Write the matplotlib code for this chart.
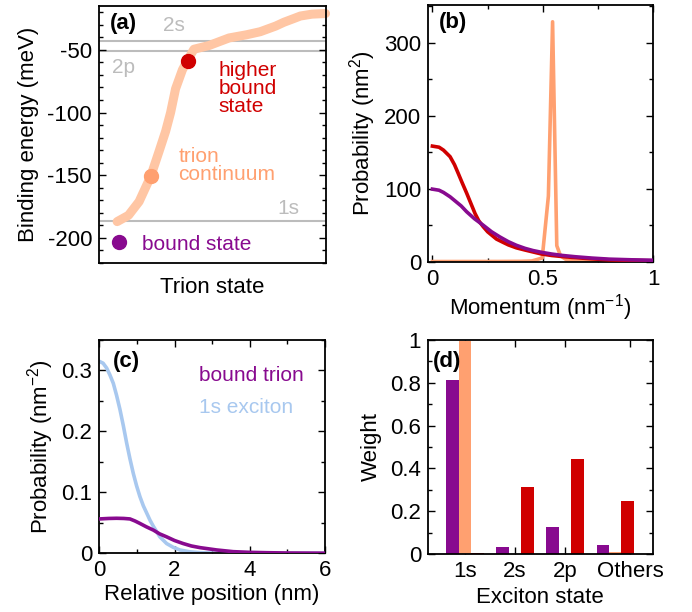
#!/usr/bin/env python3
"""Trion binding energies, momentum/real-space probabilities and exciton weights."""

import numpy as np
import matplotlib.pyplot as plt
from matplotlib.ticker import MultipleLocator, FuncFormatter

plt.rcParams["font.family"] = ["Liberation Sans", "DejaVu Sans"]
plt.rcParams["mathtext.fontset"] = "custom"
plt.rcParams["mathtext.rm"] = "Liberation Sans"
plt.rcParams["mathtext.it"] = "Liberation Sans:italic"
plt.rcParams["axes.unicode_minus"] = False
plt.rcParams["font.size"] = 16

PURPLE = "#880a8f"
RED = "#d00000"
ORANGE = "#ffa070"
ORANGE_LIGHT = "#ffc6a4"
BLUE = "#a8c8ef"
GRAY = "#bcbcbc"

# (a) trion binding energies
trion_state = [0.08, 0.13, 0.177, 0.228, 0.265, 0.294, 0.316, 0.338, 0.368, 0.39,
               0.419, 0.486, 0.574, 0.65, 0.712, 0.78, 0.816, 0.86, 0.889, 0.94, 1.0]
trion_energy = [-187, -182, -171, -151, -131, -115, -100, -81, -66, -58.5,
                -49.5, -46.5, -40.5, -38, -35.5, -31, -28, -25, -23, -21.5, -21]
exciton_levels = {"2s": -43.2, "2p": -51.0, "1s": -186.8}
bound_state = (0.088, -203.2)
continuum_state = (0.229, -151.0)
higher_state = (0.392, -58.5)

# (b) momentum-space probability
k_red = [0.0, 0.03, 0.05, 0.08, 0.10, 0.117, 0.135, 0.155, 0.174, 0.193, 0.21,
         0.23, 0.25, 0.268, 0.29, 0.32, 0.344, 0.38, 0.419, 0.46, 0.495, 0.54,
         0.59, 0.646, 0.72, 0.8, 0.9, 1.0]
p_red = [158.5, 157, 153, 144, 133, 121, 108, 94, 80, 66, 56,
         48, 41, 36.5, 31, 26.5, 23, 19, 16, 13, 10.5, 8.5,
         7, 5.5, 4, 2.5, 1.8, 1.2]
k_purple = [0.0, 0.03, 0.05, 0.08, 0.10, 0.13, 0.155, 0.19, 0.23, 0.268, 0.305,
            0.344, 0.38, 0.419, 0.455, 0.495, 0.54, 0.59, 0.646, 0.72, 0.8, 0.9, 1.0]
p_purple = [99.5, 98, 95, 89, 84, 76.5, 68.5, 59, 50, 41, 34,
            27.4, 22.5, 18.3, 15.3, 12.8, 10.5, 8.5, 6.8, 5, 3.5, 2.6, 2.0]
k_orange = [0.0, 0.3, 0.40, 0.45, 0.497, 0.525, 0.544, 0.563, 0.58, 0.61, 0.65, 0.8, 1.0]
p_orange = [0.2, 0.3, 0.5, 1.0, 5, 90, 329, 22, 8, 2, 0.5, 0.2, 0.1]

# (c) real-space probability
r_exciton = [0.0, 0.1, 0.195, 0.28, 0.372, 0.46, 0.549, 0.64, 0.727, 0.815, 0.904,
             0.99, 1.08, 1.17, 1.26, 1.35, 1.44, 1.61, 1.79, 1.96, 2.14, 2.4,
             2.68, 3.2, 6.0]
p_exciton = [0.315, 0.312, 0.304, 0.293, 0.279, 0.259, 0.236, 0.209, 0.181, 0.155,
             0.131, 0.111, 0.093, 0.078, 0.066, 0.054, 0.044, 0.027, 0.016, 0.010,
             0.0055, 0.0025, 0.001, 0.0002, 0.0]
r_trion = [0.0, 0.25, 0.46, 0.65, 0.815, 0.95, 1.08, 1.25, 1.44, 1.6, 1.79, 2.0,
           2.23, 2.45, 2.68, 3.12, 3.56, 4.0, 4.45, 5.0, 6.0]
p_trion = [0.0564, 0.0572, 0.0575, 0.0572, 0.0564, 0.053, 0.049, 0.0435, 0.038,
           0.032, 0.027, 0.021, 0.016, 0.012, 0.0093, 0.0055, 0.0027, 0.0016,
           0.001, 0.0005, 0.0002]

# (d) exciton weights
states = ["1s", "2s", "2p", "Others"]
w_bound = [0.811, 0.033, 0.127, 0.042]
w_continuum = [0.994, 0.0, 0.0, 0.009]
w_higher = [0.003, 0.3125, 0.444, 0.248]


def style_axes(ax):
    for s in ax.spines.values():
        s.set_linewidth(1.3)
    ax.tick_params(which="both", direction="in", top=True, right=True,
                   width=1.0, pad=5, labelsize=16)
    ax.tick_params(which="major", length=5)
    ax.tick_params(which="minor", length=3)


fmt = FuncFormatter(lambda v, p: f"{v:g}")

fig = plt.figure(figsize=(6.92, 6.12), dpi=100)
ax_a = fig.add_axes([0.1431, 0.5703, 0.3273, 0.4199])
ax_b = fig.add_axes([0.6185, 0.5724, 0.3256, 0.4194])
ax_c = fig.add_axes([0.1435, 0.0959, 0.3262, 0.3485])
ax_d = fig.add_axes([0.6185, 0.0948, 0.3247, 0.3497])

# --- (a) ---
for name, e in exciton_levels.items():
    ax_a.axhline(e, color=GRAY, lw=1.5, zorder=1)
ax_a.plot(trion_state, trion_energy, color=ORANGE_LIGHT, lw=6.5,
          solid_capstyle="round", solid_joinstyle="round", zorder=2, clip_on=False)
ax_a.plot(*bound_state, "o", color=PURPLE, ms=10, zorder=3)
ax_a.plot(*continuum_state, "o", color=ORANGE, ms=10, zorder=3)
ax_a.plot(*higher_state, "o", color=RED, ms=10, zorder=3)
ax_a.set_xlim(0, 1)
ax_a.set_ylim(-220, -15)
style_axes(ax_a)
ax_a.tick_params(axis="x", which="both", bottom=False, top=False, labelbottom=False)
ax_a.yaxis.set_major_locator(MultipleLocator(50))
ax_a.yaxis.set_minor_locator(MultipleLocator(10))
ax_a.set_xlabel("Trion state", labelpad=10)
ax_a.set_ylabel("Binding energy (meV)", labelpad=6)
ax_a.text(0.05, 0.93, "(a)", transform=ax_a.transAxes, fontweight="bold",
          fontsize=16, va="center")
ax_a.text(0.329, -30.7, "2s", color=GRAY, fontsize=15, ha="center", va="center")
ax_a.text(0.056, -63.8, "2p", color=GRAY, fontsize=15, ha="left", va="center")
ax_a.text(0.838, -176.2, "1s", color=GRAY, fontsize=15, ha="center", va="center")
ax_a.text(0.528, -81, "higher\nbound\nstate", color=RED, fontsize=15,
          ha="left", va="center", linespacing=0.95)
ax_a.text(0.351, -142.5, "trion\ncontinuum", color=ORANGE, fontsize=15,
          ha="left", va="center", linespacing=0.95)
ax_a.text(0.189, -205.3, "bound state", color=PURPLE, fontsize=15,
          ha="left", va="center")

# --- (b) ---
ax_b.plot(k_orange, p_orange, color=ORANGE, lw=2.6, zorder=2)
ax_b.plot(k_red, p_red, color=RED, lw=2.6, zorder=3)
ax_b.plot(k_purple, p_purple, color=PURPLE, lw=2.6, zorder=4)
ax_b.set_xlim(-0.02, 1.0)
ax_b.set_ylim(0, 352)
style_axes(ax_b)
ax_b.xaxis.set_major_locator(MultipleLocator(0.5))
ax_b.xaxis.set_minor_locator(MultipleLocator(0.25))
ax_b.yaxis.set_major_locator(MultipleLocator(100))
ax_b.yaxis.set_minor_locator(MultipleLocator(50))
ax_b.xaxis.set_major_formatter(fmt)
ax_b.set_xlabel("Momentum (nm$^{-1}$)", labelpad=2)
ax_b.set_ylabel("Probability (nm$^{2}$)", labelpad=4)
ax_b.text(0.05, 0.93, "(b)", transform=ax_b.transAxes, fontweight="bold",
          fontsize=16, va="center")

# --- (c) ---
ax_c.plot(r_exciton, p_exciton, color=BLUE, lw=2.6, zorder=2)
ax_c.plot(r_trion, p_trion, color=PURPLE, lw=2.6, zorder=3)
ax_c.set_xlim(0, 6)
ax_c.set_ylim(0, 0.35)
style_axes(ax_c)
ax_c.xaxis.set_major_locator(MultipleLocator(2))
ax_c.xaxis.set_minor_locator(MultipleLocator(1))
ax_c.yaxis.set_major_locator(MultipleLocator(0.1))
ax_c.yaxis.set_minor_locator(MultipleLocator(0.05))
ax_c.yaxis.set_major_formatter(fmt)
ax_c.set_xlabel("Relative position (nm)", labelpad=2)
ax_c.set_ylabel("Probability (nm$^{-2}$)", labelpad=4)
ax_c.text(0.06, 0.9, "(c)", transform=ax_c.transAxes, fontweight="bold",
          fontsize=16, va="center")
ax_c.text(2.65, 0.2926, "bound trion", color=PURPLE, fontsize=15, va="center")
ax_c.text(2.65, 0.240, "1s exciton", color=BLUE, fontsize=15, va="center")

# --- (d) ---
x = np.arange(len(states))
bw = 0.247
ax_d.bar(x - bw, w_bound, bw, color=PURPLE, zorder=2)
ax_d.bar(x, w_continuum, bw, color=ORANGE, zorder=2)
ax_d.bar(x + bw, w_higher, bw, color=RED, zorder=2)
ax_d.set_xlim(-0.74, 3.753)
ax_d.set_ylim(0, 1)
style_axes(ax_d)
ax_d.set_xticks([0, 1, 2, 3.3])
ax_d.set_xticklabels(states)
ax_d.yaxis.set_major_locator(MultipleLocator(0.2))
ax_d.yaxis.set_minor_locator(MultipleLocator(0.1))
ax_d.yaxis.set_major_formatter(fmt)
ax_d.set_xlabel("Exciton state", labelpad=4)
ax_d.set_ylabel("Weight", labelpad=6)
ax_d.text(0.02, 0.9, "(d)", transform=ax_d.transAxes, fontweight="bold",
          fontsize=16, va="center", zorder=5)

fig.savefig("out.png", dpi=100)
